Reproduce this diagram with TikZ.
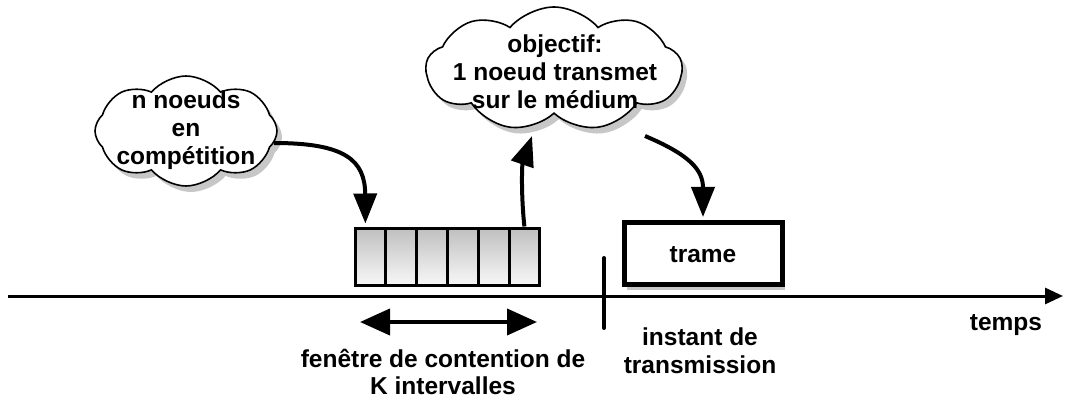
\documentclass[tikz,border=0pt]{standalone}
\usepackage{fontspec}
\setmainfont{Liberation Sans}
\usetikzlibrary{shapes.symbols,arrows.meta,shadows,calc}
\begin{document}
\begin{tikzpicture}[x=1pt,y=-1pt,
  lbl/.style={font=\fontsize{24.5}{27.8}\selectfont\bfseries, align=center, inner sep=0pt},
  thought/.style={cloud, cloud ignores aspect, draw=black, line width=1.6pt, fill=white,
     drop shadow={shadow xshift=5pt, shadow yshift=-6pt, opacity=0.22, fill=black}},
  heavy/.style={line width=4pt},
  bigtip/.style={-{Triangle[length=30pt,width=23pt]}},
  cell/.style={draw=black, line width=3pt, top color=gray!50, bottom color=gray!6, minimum width=30.8pt, minimum height=57pt, inner sep=0pt},
  framebox/.style={draw=black, line width=5pt, fill=white, minimum width=158pt, minimum height=62pt, inner sep=0pt,
     drop shadow={shadow xshift=3pt, shadow yshift=-5pt, opacity=0.22, fill=black}}
]
\useasboundingbox (0,0) rectangle (1066,401);

% timeline
\coordinate (t0) at (8,296);
\coordinate (t1) at (1063,296);
\draw[line width=3pt, -{Triangle[length=18pt,width=16pt]}] (t0) -- (t1);

% tick
\coordinate (k0) at (604,258);
\coordinate (k1) at (604,328);
\draw[line width=4pt, line cap=round] (k0) -- (k1);

% contention window cells
\foreach \i in {0,...,5} {
  \node[cell] (c\i) at ({370.4+\i*30.8},256.5) {};
}

% frame
\node[framebox] (frame) at (703,253.5) {};
\node[lbl] (framet) at (703,255) {trame};

% clouds
\node[thought, cloud puffs=8, cloud puff arc=100, minimum width=182pt, minimum height=110pt, inner sep=0pt] (cl1) at (186,131) {};
\node[lbl] (cl1t) at (186,130) {n noeuds\\en\\compétition};
\node[thought, cloud puffs=9, cloud puff arc=100, minimum width=256pt, minimum height=124pt, inner sep=0pt] (cl2) at (554,69) {};
\node[lbl] (cl2t) at (555,72) {objectif:\\1 noeud transmet\\sur le médium};

% arrows
\coordinate (a1s) at (274,143);
\draw[heavy, bigtip] (a1s) .. controls (345,143) and (365,160) .. ($(c0.north)+(-5,-3)$);
\coordinate (a2e) at (532,136);
\draw[heavy, bigtip] (c5.north) .. controls (521,195) and (522,165) .. (a2e);
\coordinate (a3s) at (645,136);
\draw[heavy, bigtip] (a3s) .. controls (690,155) and (703,170) .. ($(frame.north)+(0,-3)$);

% double arrow
\coordinate (d0) at (360,322);
\coordinate (d1) at (537,322);
\draw[heavy, {Triangle[length=30pt,width=26pt]}-{Triangle[length=30pt,width=26pt]}] (d0) -- (d1);

% labels
\node[lbl] (fen) at (443,372) {fenêtre de contention de\\K intervalles};
\node[lbl] (inst) at (700,351) {instant de\\transmission};
\node[lbl] (temps) at (1006,325) {temps};
\end{tikzpicture}
\end{document}
